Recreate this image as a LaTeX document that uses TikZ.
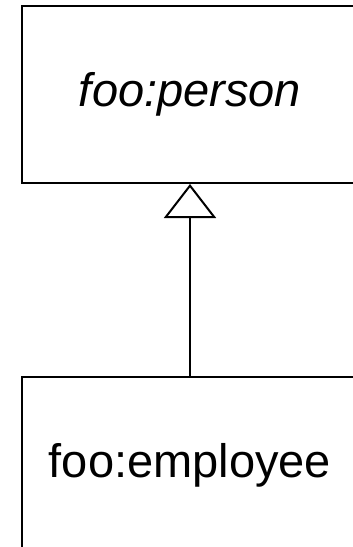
\documentclass[tikz,border=0pt]{standalone}
\usepackage{fontspec}
\setmainfont{Liberation Sans}
\usetikzlibrary{arrows.meta,positioning}

\begin{document}
\begin{tikzpicture}[x=1pt,y=1pt,node distance=192pt,line width=2pt]
  \tikzstyle{every node}=[font=\fontsize{47}{56}\selectfont]
  \tikzstyle{umlclass}=[draw,rectangle,minimum width=336pt,minimum height=177pt,inner sep=0pt]
  \useasboundingbox (0,0) rectangle (353,-547);

  \node[umlclass] (Person) at (190,-94.5) {\textit{foo:person}};
  \node[umlclass] (Employee) [below=of Person] {foo:employee};

  \draw[-{Triangle[open,length=34pt,width=52pt]}] (Employee) -- (Person);
\end{tikzpicture}
\end{document}
